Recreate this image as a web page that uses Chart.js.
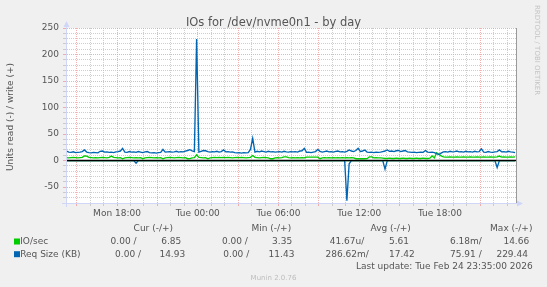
<!DOCTYPE html>
<html><head><meta charset="utf-8">
<script src="https://cdn.jsdelivr.net/npm/chart.js@4/dist/chart.umd.min.js"></script>
<style>html,body{margin:0;padding:0;background:#f0f0f0;overflow:hidden}canvas{display:block}</style>
</head><body>
<canvas id="c" width="547" height="287"></canvas>
<script>
// ---- data (hours measured from Mon 00:00) ----
const SAMPLE_START_HOUR = 14.25;   // first sample Mon 14:15
const SAMPLE_STEP_MIN = 10;        // one sample every 10 minutes
const X_MIN = 14.21, X_MAX = 47.65;
const Y_MIN = -80, Y_MAX = 250;
const xTickHours = [18, 24, 30, 36, 42];
const xTickLabels = ["Mon 18:00", "Tue 00:00", "Tue 06:00", "Tue 12:00", "Tue 18:00"];
const yTickLabels = [-50, 0, 50, 100, 150, 200, 250];

// IO/sec, write (+)
const ioWrite = [
5.5,5,5.5,6,5.5,5,5.5,6,8.8,8.5,
6,5.5,5,5.5,5,5.5,6,5.5,5,6,
8.5,6,5.5,5,5.5,3.4,5,5.5,6,5.5,
5,5.5,5,5.5,3.5,5,5.5,6,5.5,5,
5.5,5,5.5,3.4,5,5.5,6,5.5,5,5.5,
6,5.5,5,5.5,3.5,3.6,5,5.5,10.7,6,
5.5,5,5.5,3.4,5,5.5,6,5.5,6,5.5,
6,5.5,6,5.5,5,5.5,6,5.5,6,5.5,
5,5.5,6,9.5,6,5.5,5,5.5,6,5.5,
5,3.4,3.5,5,5.5,5,5.5,7,7,5.5,
5,5.5,5,5.5,5,5.5,5,6.5,6.5,6.5,
6.5,6.5,6.5,3.5,5,5.5,5,5.5,5,5.5,
5,5.5,5,5.5,5,5.5,5,5.5,5,3.5,
3.4,3.6,3.5,3.4,3.6,7,7,5,5.5,5,
5,4.5,4,4,4.5,4,4,4.5,4,4,
4.5,4,4,4.5,4,4,4.5,4,4,4.5,
4,4,4.5,8.8,5,14.66,12,8.8,7,6.5,
6.5,7,6.5,6.5,7,6.5,6.5,7,6.5,6.5,
7,6.5,6.5,7,6.5,6.5,7,6.5,6.5,7,
6.5,6.5,7,8.5,6.5,7,6.5,6.5,7,6.5,
6.85];
// IO/sec, read (-)
const ioRead = [
0,0,0,0,0,0,0,0,0,0, 0,0,0,0,0,0,0,0,0,0, 0,0,0,0,0,0,0,0,0,0, 0,0,0,0,0,0,0,0,0,0,
0,0,0,0,0,0,0,0,0,0, 0,0,0,0,0,0,0,0,0.00618,0, 0,0,0,0,0,0,0,0,0,0, 0,0,0,0,0,0,0,0,0,0,
0,0,0,0,0,0,0,0,0,0, 0,0,0,0,0,0,0,0,0,0, 0,0,0,0,0,0,0,0,0,0, 0,0,0,0,0,0,0,0,0,0,
0,0,0,0,0,0,0,0,0,0, 0,0,0,0,0,0,0,0,0,0, 0,0,0,0,0,0,0,0,0,0, 0,0,0,0,0,0,0,0,0,0,
0,0,0,0,0,0,0,0,0,0, 0,0,0,0,0,0,0,0,0,0, 0,0,0,0,0,0,0,0,0,0, 0,0,0,0,0,0,0,0,0,0,
0];
// Req Size (KB), write (+)
const reqWrite = [
18,16,15.5,16.5,15,15.5,16,17,20,16,
15,14.5,15.5,15,14.5,17.5,18,16,16.5,15.5,
16,15,16.5,17,18,23,16,15.5,17,16,
16.5,15.5,17,16,15,16.5,17,15,14.5,15,
14,15,15.5,21,16,16.5,17,16,16.5,17.5,
16,17,16.5,18,19,20.5,18.5,17,229.44,16,
17.5,19,18.5,17,16,17,16.5,17.5,16,17,
20,16.5,17,16,16.5,15,14.5,15,14,15,
14.5,15,21,42,16,17.5,16.5,18,17,16,
17.5,16.5,17,16,16.5,17,16,17.5,16.5,16,
17,16.5,17,16,18,18.5,23,15.5,16,15,
16,17,21,17.5,16,17,18,16.5,17,16,
17.5,18,16.5,17,16,17.5,20,18,17,19,
23,17,18,20,16,15.5,16,15,16,15.5,
16,17,18,20,17.5,18,17,18.5,19,17,
18,19,16.5,16,15.5,16,15,15.5,16,15.5,
19,16,15.5,16,15,13,11.43,14,16.5,17,
16,17.5,16.5,17,18,16.5,17,16,17.5,16.5,
17,16,17.5,16.5,17,22,16,15.5,17,16,
15.5,16.5,17,20,16.5,17,16,17.5,16.5,16,
14.93];
// Req Size (KB), read (-)
const reqRead = [
0,0,0,0,0,0,0,0,0,0, 0,0,0,0,0,0,0,0,0,0, 0,0,0,0,0,0,0,0,0,0, 0,5,0,0,0,0,0,0,0,0,
0,0,0,0,0,0,0,0,0,0, 0,0,0,0,0,0,0,0,0,0, 0,0,0,0,0,0,0,0,0,0, 0,0,0,0,0,0,0,0,0,0,
0,0,0,0,0,0,0,0,0,0, 0,0,0,0,0,0,0,0,0,0, 0,0,0,0,0,0,0,0,0,0, 0,0,0,0,0,0,0,0,0,0,
0,0,0,0,0,75.91,6,0,0,0, 0,0,0,0,0,0,0,0,0,0, 0,0,16,0,0,0,0,0,0,0, 0,0,0,0,0,0,0,0,0,0,
0,0,0,0,0,0,0,0,0,0, 0,0,0,0,0,0,0,0,0,0, 0,0,0,0,0,0,0,0,0,0, 0,0,13,0,0,0,0,0,0,0,
0];

const seriesNames = ["IO/sec", "Req Size (KB)"];
const seriesColors = ["#00cc00", "#0066b3"];
const legendHeaders = ["Cur (-/+)", "Min (-/+)", "Avg (-/+)", "Max (-/+)"];
const ioStats = ["0.00 /", "6.85", "0.00 /", "3.35", "41.67u/", "5.61", "6.18m/", "14.66"];
const reqStats = ["0.00 /", "14.93", "0.00 /", "11.43", "286.62m/", "17.42", "75.91 /", "229.44"];
const titleText = "IOs for /dev/nvme0n1 - by day";
const yTitle = "Units read (-) / write (+)";
const lastUpdate = "Last update: Tue Feb 24 23:35:00 2026";
const footer = "Munin 2.0.76";
const watermark = "RRDTOOL / TOBI OETIKER";

// ---- build ----
const toPts = (arr, sign) => arr.map((v, i) => ({x: SAMPLE_START_HOUR + i * SAMPLE_STEP_MIN / 60, y: sign * v}));
const FONT = '"DejaVu Sans", sans-serif';
const TXT = '#555555';
const MAJOR = 'rgba(238,150,150,0.75)';
const MINOR = 'rgba(185,185,185,0.7)';
const AXIS = '#cfd6f8';

const munin = {
  id: 'munin',
  beforeDraw(chart) {
    const {ctx, chartArea: a} = chart;
    ctx.save();
    ctx.fillStyle = '#f0f0f0';
    ctx.fillRect(0, 0, chart.width, chart.height);
    ctx.fillStyle = '#ffffff';
    ctx.fillRect(a.left, a.top, a.right - a.left, a.bottom - a.top);
    ctx.restore();
  },
  afterDatasetsDraw(chart) {
    const {ctx, chartArea: a, scales} = chart;
    const y0 = Math.floor(scales.y.getPixelForValue(0)) + 0.5;
    ctx.save();
    ctx.strokeStyle = '#000';
    ctx.lineWidth = 1.3;
    ctx.beginPath(); ctx.moveTo(a.left, y0); ctx.lineTo(a.right, y0); ctx.stroke();
    ctx.restore();
  },
  afterDraw(chart) {
    const {ctx, chartArea: a} = chart;
    ctx.save();
    // right frame line
    ctx.strokeStyle = '#9a9a9a'; ctx.lineWidth = 1;
    ctx.beginPath(); ctx.moveTo(a.right + 0.5, a.top); ctx.lineTo(a.right + 0.5, a.bottom); ctx.stroke();
    // axes with arrows
    ctx.strokeStyle = AXIS; ctx.fillStyle = AXIS;
    const lx = a.left + 0.5, by = a.bottom + 0.5;
    ctx.beginPath(); ctx.moveTo(lx, a.bottom + 4); ctx.lineTo(lx, a.top - 3); ctx.stroke();
    ctx.beginPath(); ctx.moveTo(lx, a.top - 7); ctx.lineTo(lx - 3, a.top - 1); ctx.lineTo(lx + 3, a.top - 1); ctx.closePath(); ctx.fill();
    ctx.beginPath(); ctx.moveTo(a.left - 4, by); ctx.lineTo(a.right + 3, by); ctx.stroke();
    ctx.beginPath(); ctx.moveTo(a.right + 7, by); ctx.lineTo(a.right + 1, by - 3); ctx.lineTo(a.right + 1, by + 3); ctx.closePath(); ctx.fill();

    // title
    ctx.fillStyle = TXT;
    ctx.font = '11.5px ' + FONT;
    ctx.textAlign = 'center'; ctx.textBaseline = 'alphabetic';
    ctx.fillText(titleText, 273.5, 26);
    // y title
    ctx.save();
    ctx.translate(11, 117);
    ctx.rotate(-Math.PI / 2);
    ctx.font = '9px ' + FONT; ctx.textBaseline = 'middle'; ctx.textAlign = 'center';
    ctx.fillText(yTitle, 0, 0);
    ctx.restore();
    // watermark
    ctx.save();
    ctx.translate(536.7, 5);
    ctx.rotate(Math.PI / 2);
    ctx.fillStyle = '#c4c4c4';
    ctx.font = '7px ' + FONT; ctx.textBaseline = 'middle'; ctx.textAlign = 'left';
    ctx.fillText(watermark, 0, 0);
    ctx.restore();

    // legend
    ctx.font = '9px ' + FONT; ctx.textBaseline = 'middle'; ctx.fillStyle = TXT;
    ctx.textAlign = 'left';
    const hx = [133.6, 251.5, 370.5, 490.1];
    legendHeaders.forEach((h, k) => ctx.fillText(h, hx[k], 228.7));
    const rows = [ioStats, reqStats];
    const rowY = [241.5, 254.2];
    const colX = [[110.6, 161.2, 221.9, 272.1, 329.7, 389, 450, 503.4],
                  [115.1, 159.4, 223.3, 268.6, 325.5, 389, 450, 496.4]];
    rows.forEach((r, k) => {
      ctx.fillStyle = seriesColors[k];
      ctx.fillRect(14, rowY[k] - 3, 6, 6);
      ctx.fillStyle = TXT;
      ctx.fillText(seriesNames[k], 20.2, rowY[k]);
      r.forEach((s, j) => ctx.fillText(s, colX[k][j], rowY[k]));
    });
    ctx.textAlign = 'right';
    ctx.fillText(lastUpdate, 532.7, 266.2);
    ctx.textAlign = 'center';
    ctx.fillStyle = '#bdbdbd';
    ctx.font = '7px ' + FONT;
    ctx.fillText(footer, 273.5, 278.4);
    ctx.restore();
  }
};

const ds = (label, arr, sign, color, order) => ({
  label, data: toPts(arr, sign), borderColor: color, backgroundColor: color,
  borderWidth: 1.35, pointRadius: 0, tension: 0, fill: false, order
});

new Chart(document.getElementById('c'), {
  type: 'line',
  data: {
    datasets: [
      ds('IO/sec read', ioRead, -1, seriesColors[0], 4),
      ds('IO/sec write', ioWrite, 1, seriesColors[0], 3),
      ds('Req Size read', reqRead, -1, seriesColors[1], 2),
      ds('Req Size write', reqWrite, 1, seriesColors[1], 1)
    ]
  },
  options: {
    responsive: false, animation: false, events: [],
    devicePixelRatio: 1,
    layout: {padding: {left: 0, right: 31, top: 28, bottom: 0}},
    plugins: {legend: {display: false}, tooltip: {enabled: false}, title: {display: false}},
    scales: {
      x: {
        type: 'linear', min: X_MIN, max: X_MAX,
        afterFit(s) { s.height = 84; },
        afterBuildTicks(s) { const t = []; for (let h = 15; h <= 47; h++) t.push({value: h}); s.ticks = t; },
        ticks: {
          autoSkip: false, maxRotation: 0, minRotation: 0, padding: 2, color: TXT,
          font: {family: FONT, size: 9},
          callback: (v) => { const k = xTickHours.indexOf(v); return k >= 0 ? xTickLabels[k] : ''; }
        },
        grid: {color: (c) => (c.tick && c.tick.value % 3 === 0) ? MAJOR : MINOR, lineWidth: 1, tickLength: 3},
        border: {color: AXIS, width: 1, dash: [1, 1]}
      },
      y: {
        type: 'linear', min: Y_MIN, max: Y_MAX,
        afterFit(s) { s.width = 66; },
        afterBuildTicks(s) { const t = []; for (let v = Y_MIN; v <= Y_MAX; v += 10) t.push({value: v}); s.ticks = t; },
        ticks: {
          autoSkip: false, padding: 4, color: TXT,
          font: {family: FONT, size: 9},
          callback: (v) => yTickLabels.includes(v) ? String(v) : ''
        },
        grid: {color: (c) => (c.tick && c.tick.value % 50 === 0) ? MAJOR : MINOR, lineWidth: 1, tickLength: 3},
        border: {color: AXIS, width: 1, dash: [1, 1]}
      }
    }
  },
  plugins: [munin]
});
</script>
</body></html>
